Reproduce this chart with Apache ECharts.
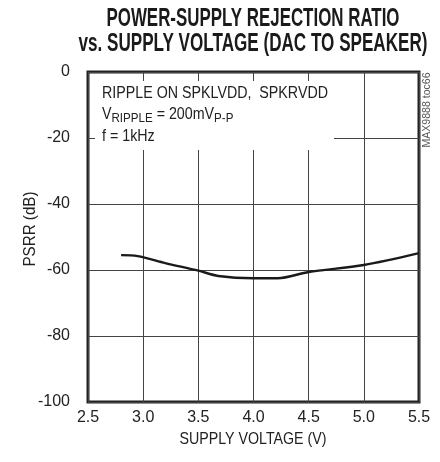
<!DOCTYPE html>
<html>
<head>
<meta charset="utf-8">
<script src="https://cdn.jsdelivr.net/npm/echarts@6/dist/echarts.min.js"></script>
<style>
  html, body { margin: 0; padding: 0; background: #fff; }
  #chart { width: 440px; height: 462px; }
</style>
</head>
<body>
<div id="chart"></div>
<script>
// supply voltage (V) and PSRR (dB)
var voltage = [2.8, 2.95, 3.2, 3.5, 3.68, 4.0, 4.22, 4.5, 5.0, 5.5];
var psrr = [-55.5, -55.8, -57.9, -60.2, -61.8, -62.5, -62.5, -60.6, -58.5, -54.9];
var xTicks = [2.5, 5.5, 0.5]; // min, max, step
var yTicks = [-100, 0, 20];

var FONT = '"Liberation Sans", Arial, sans-serif';

// the original uses a condensed face; squeeze text horizontally to a target width
var ctx = document.createElement('canvas').getContext('2d');
function squeeze(text, font, width) {
    ctx.font = font;
    return width / ctx.measureText(text).width;
}

var t1 = 'POWER-SUPPLY REJECTION RATIO';
var t2 = 'vs. SUPPLY VOLTAGE (DAC TO SPEAKER)';
var titleFont = 'bold 25px ' + FONT;
var noteFont = '16px ' + FONT;
var note1 = 'RIPPLE ON SPKLVDD,  SPKRVDD';
var noteScale = squeeze(note1, noteFont, 226);
var xName = 'SUPPLY VOLTAGE (V)';
var yName = 'PSRR (dB)';
var nameFont = '17px ' + FONT;
var idText = 'MAX9888 toc66';
var idFont = '10px ' + FONT;

var Chart1 = echarts.init(document.getElementById('chart'));
var option1 = {
    backgroundColor: '#fff',
    animation: false,
    grid: {
        left: 88, right: 21, top: 72, bottom: 60,
        show: true,
        borderColor: '#222',
        borderWidth: 3
    },
    xAxis: {
        type: 'value',
        min: xTicks[0], max: xTicks[1], interval: xTicks[2],
        axisLine: { show: false },
        axisTick: { show: false },
        axisLabel: {
            margin: 8,
            fontFamily: FONT, fontSize: 16, color: '#222',
            formatter: function (v) { return v.toFixed(1); }
        },
        splitLine: { lineStyle: { color: '#444', width: 1 } }
    },
    yAxis: {
        type: 'value',
        min: yTicks[0], max: yTicks[1], interval: yTicks[2],
        axisLine: { show: false },
        axisTick: { show: false },
        axisLabel: { margin: 18, fontFamily: FONT, fontSize: 16, color: '#222' },
        splitLine: { lineStyle: { color: '#444', width: 1 } }
    },
    graphic: [
        // title
        {
            type: 'text', x: 253, y: 19, z: 5,
            scaleX: squeeze(t1, titleFont, 293),
            style: {
                text: t1, font: titleFont, fill: '#1a1a1a',
                textAlign: 'center', textVerticalAlign: 'middle'
            }
        },
        {
            type: 'text', x: 253, y: 44, z: 5,
            scaleX: squeeze(t2, titleFont, 349),
            style: {
                text: t2, font: titleFont, fill: '#1a1a1a',
                textAlign: 'center', textVerticalAlign: 'middle'
            }
        },
        // axis names
        {
            type: 'text', x: 253, y: 439, z: 5,
            scaleX: squeeze(xName, nameFont, 147),
            style: {
                text: xName, font: nameFont, fill: '#222',
                textAlign: 'center', textVerticalAlign: 'middle'
            }
        },
        {
            type: 'text', x: 30, y: 229, rotation: Math.PI / 2, z: 5,
            scaleX: squeeze(yName, nameFont, 75),
            style: {
                text: yName, font: nameFont, fill: '#222',
                textAlign: 'center', textVerticalAlign: 'middle'
            }
        },
        // white box behind the conditions text (breaks the grid lines)
        {
            type: 'rect', z: 1,
            shape: { x: 95, y: 81, width: 239, height: 69 },
            style: { fill: '#fff' }
        },
        {
            type: 'text', x: 102, y: 94, z: 5, scaleX: noteScale,
            style: {
                text: note1, font: noteFont, fill: '#222',
                textVerticalAlign: 'middle'
            }
        },
        {
            type: 'text', x: 102, y: 116, z: 5, scaleX: noteScale,
            style: {
                text: '{a|V}{s|RIPPLE}{a| = 200mV}{s|P-P}',
                textVerticalAlign: 'middle',
                rich: {
                    a: { fontFamily: FONT, fontSize: 16, fill: '#222', color: '#222', verticalAlign: 'top', lineHeight: 18 },
                    s: { fontFamily: FONT, fontSize: 13, fill: '#222', color: '#222', verticalAlign: 'bottom', lineHeight: 18, padding: [6, 0, 0, 0] }
                }
            }
        },
        {
            type: 'text', x: 102, y: 137, z: 5, scaleX: noteScale,
            style: {
                text: 'f = 1kHz', font: noteFont, fill: '#222',
                textVerticalAlign: 'middle'
            }
        },
        // figure id, rotated
        {
            type: 'text', x: 427, y: 110, rotation: Math.PI / 2, z: 5,
            scaleX: squeeze(idText, idFont, 75),
            style: {
                text: idText, font: idFont, fill: '#555',
                textAlign: 'center', textVerticalAlign: 'middle'
            }
        }
    ],
    series: [
        {
            type: 'line',
            data: (function () {
                var res = [];
                for (var i = 0; i < voltage.length; i++) {
                    res.push([voltage[i], psrr[i]]);
                }
                return res;
            })(),
            smooth: 0.3,
            showSymbol: false,
            lineStyle: { color: '#1a1a1a', width: 2.4 },
            z: 3
        }
    ]
};
Chart1.setOption(option1);

window.onresize = function () {
    Chart1.resize();
};
</script>
</body>
</html>
